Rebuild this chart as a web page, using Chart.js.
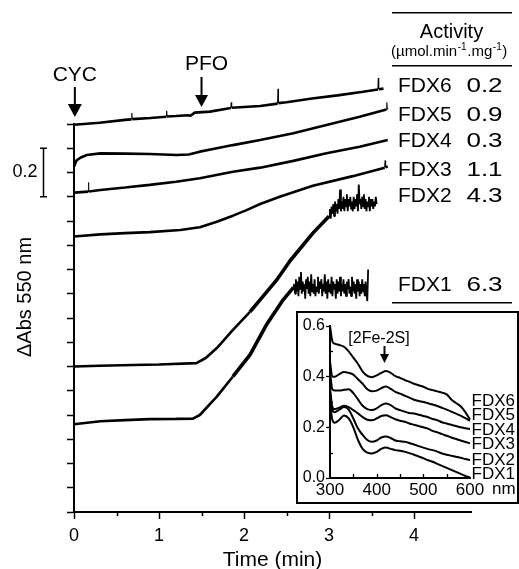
<!DOCTYPE html>
<html><head><meta charset="utf-8">
<script src="https://cdn.jsdelivr.net/npm/chart.js@4.4.0/dist/chart.umd.min.js"></script>
<style>
html,body{margin:0;padding:0;background:#fff;}
#wrap{position:relative;width:519px;height:569px;overflow:hidden;}
#main{position:absolute;left:0;top:0;}
#insetBox{position:absolute;left:296px;top:311px;width:223px;height:193px;border:2px solid #000;box-sizing:border-box;background:#fff;}
#inset{position:absolute;left:298px;top:313px;}
</style></head><body>
<div id="wrap">
<canvas id="main" width="519" height="569"></canvas>
<div id="insetBox"></div>
<canvas id="inset" width="219" height="189"></canvas>
</div>
<script>
const FONT = "'Liberation Sans', Arial, Helvetica, sans-serif";

// ---------- main kinetics traces (time in min, ΔAbs 550 nm, stacked offsets) ----------
const fdx6Time = [0,0.3,0.6,0.675,0.68,0.685,0.9,1.085,1.09,1.095,1.2,1.34,1.37,1.42,1.6,1.845,1.85,1.855,2.19,2.395,2.40,2.405,2.5,2.8,3.1,3.4,3.575,3.58,3.585,3.64];
const fdx6Abs  = [1.597,1.605,1.617,1.619,1.645,1.620,1.625,1.630,1.655,1.631,1.633,1.636,1.634,1.647,1.651,1.666,1.69,1.667,1.674,1.684,1.745,1.686,1.69,1.705,1.718,1.733,1.742,1.79,1.743,1.746];

const fdx5Time = [0,0.03,0.08,0.15,0.31,0.6,0.89,1.21,1.35,1.48,1.65,1.87,2.19,2.58,2.97,3.36,3.675,3.68,3.685,3.69];
const fdx5Abs  = [1.424,1.45,1.462,1.472,1.479,1.478,1.476,1.472,1.474,1.486,1.498,1.513,1.534,1.562,1.596,1.63,1.66,1.69,1.662,1.665];

const fdx4Time = [0,0.165,0.17,0.175,0.31,0.6,0.89,1.2,1.48,1.87,2.19,2.58,2.97,3.36,3.69];
const fdx4Abs  = [1.317,1.321,1.36,1.322,1.328,1.338,1.349,1.362,1.376,1.403,1.42,1.448,1.479,1.506,1.534];

const fdx3Time = [0,0.31,0.6,0.89,1.25,1.48,1.68,1.87,2.03,2.19,2.42,2.81,3.28,3.655,3.66,3.665,3.69];
const fdx3Abs  = [1.136,1.145,1.15,1.154,1.163,1.174,1.197,1.222,1.245,1.27,1.30,1.345,1.385,1.42,1.45,1.422,1.425];

const fdx2Time = [0,0.3,0.7,1.0,1.44,1.55,1.68,1.87,2.07,2.26,2.38,2.54,2.81,
  3.00,3.01,3.02,3.03,3.04,3.05,3.06,3.07,3.08,3.09,3.10,3.11,3.12,3.13,3.14,3.15,3.16,3.17,3.18,3.19,
  3.20,3.21,3.22,3.23,3.24,3.25,3.26,3.27,3.28,3.29,3.30,3.31,3.32,3.33,3.34,3.35,3.36,3.37,3.38,3.39,
  3.40,3.41,3.42,3.43,3.44,3.45,3.46,3.47,3.48,3.49,3.50,3.51,3.52,3.53,3.54,3.55,3.56];
const fdx2Abs  = [0.600,0.603,0.606,0.608,0.614,0.635,0.676,0.751,0.825,0.905,0.955,1.035,1.15,
  1.22,1.25,1.21,1.26,1.23,1.27,1.22,1.28,1.24,1.27,1.23,1.29,1.25,1.33,1.24,1.28,1.25,1.30,1.24,1.29,
  1.26,1.31,1.24,1.29,1.26,1.30,1.25,1.28,1.24,1.30,1.25,1.29,1.26,1.31,1.24,1.35,1.27,1.29,1.25,1.30,
  1.26,1.31,1.25,1.29,1.24,1.28,1.26,1.30,1.24,1.29,1.26,1.29,1.25,1.28,1.26,1.30,1.27];

const fdx1Time = [0,0.31,0.6,0.89,1.2,1.40,1.48,1.68,1.87,2.07,2.26,2.46,2.58,
  2.59,2.60,2.61,2.62,2.63,2.64,2.65,2.66,2.67,2.68,2.69,2.70,2.71,2.72,2.73,2.74,2.75,2.76,2.77,2.78,
  2.79,2.80,2.81,2.82,2.83,2.84,2.85,2.86,2.87,2.88,2.89,2.90,2.91,2.92,2.93,2.94,2.95,2.96,2.97,2.98,
  2.99,3.00,3.01,3.02,3.03,3.04,3.05,3.06,3.07,3.08,3.09,3.10,3.11,3.12,3.13,3.14,3.15,3.16,3.17,3.18,
  3.19,3.20,3.21,3.22,3.23,3.24,3.25,3.26,3.27,3.28,3.29,3.30,3.31,3.32,3.33,3.34,3.35,3.36,3.37,3.38,
  3.39,3.40,3.41,3.42,3.43,3.44,3.45,3.46];
const fdx1Abs  = [0.362,0.374,0.379,0.383,0.384,0.385,0.40,0.476,0.559,0.648,0.77,0.875,0.925,
  0.94,0.90,0.96,0.91,0.95,0.89,0.97,0.92,0.99,0.90,0.95,0.91,0.94,0.88,0.96,0.92,0.97,0.90,0.95,0.89,
  0.98,0.91,0.94,0.90,0.96,0.89,0.93,0.91,0.97,0.90,0.95,0.92,0.96,0.89,0.94,0.91,0.98,0.90,0.95,0.88,
  0.96,0.91,0.94,0.90,0.97,0.89,0.95,0.92,0.94,0.88,0.96,0.90,0.95,0.91,0.97,0.89,0.94,0.91,0.96,0.90,
  0.94,0.89,0.95,0.92,0.96,0.90,0.93,0.89,0.97,0.91,0.95,0.90,0.94,0.88,0.96,0.91,0.95,0.89,0.94,0.90,
  0.96,0.91,0.94,0.89,0.95,0.90,0.87,1.00];

const traceNames = ['FDX6','FDX5','FDX4','FDX3','FDX2','FDX1'];
const activities = ['0.2','0.9','0.3','1.1','4.3','6.3'];
const xMajorTicks = [0,1,2,3,4];
const xMinorTicks = [0.5,1.5,2.5,3.5];

// ---------- inset: absorbance spectra ----------
const wavelengths = [300,305,310,320,330,340,350,360,370,380,390,400,410,420,430,440,450,460,470,480,490,500,510,520,530,540,550,560,570,580,590,600];
const specFdx6 = [0.60,0.54,0.53,0.525,0.518,0.50,0.475,0.45,0.42,0.403,0.398,0.405,0.415,0.422,0.415,0.402,0.395,0.387,0.38,0.372,0.366,0.36,0.352,0.347,0.342,0.337,0.33,0.31,0.296,0.283,0.26,0.231];
const specFdx5 = [0.46,0.40,0.40,0.41,0.418,0.415,0.408,0.39,0.372,0.35,0.342,0.345,0.355,0.361,0.352,0.34,0.333,0.325,0.317,0.309,0.304,0.30,0.295,0.29,0.284,0.277,0.27,0.262,0.254,0.246,0.236,0.226];
const specFdx4 = [0.42,0.35,0.345,0.345,0.348,0.35,0.335,0.31,0.285,0.272,0.268,0.275,0.288,0.294,0.288,0.275,0.268,0.262,0.257,0.255,0.25,0.245,0.24,0.233,0.228,0.22,0.215,0.21,0.205,0.20,0.196,0.193];
const specFdx3 = [0.36,0.28,0.272,0.278,0.285,0.28,0.268,0.255,0.24,0.23,0.228,0.235,0.245,0.248,0.24,0.232,0.226,0.222,0.215,0.21,0.205,0.20,0.195,0.186,0.18,0.173,0.167,0.16,0.154,0.148,0.142,0.137];
const specFdx2 = [0.32,0.27,0.26,0.27,0.28,0.27,0.235,0.195,0.17,0.15,0.143,0.148,0.16,0.164,0.158,0.148,0.145,0.143,0.138,0.132,0.126,0.12,0.114,0.11,0.104,0.097,0.092,0.088,0.084,0.08,0.075,0.071];
const specFdx1 = [0.30,0.23,0.218,0.23,0.247,0.235,0.20,0.15,0.115,0.10,0.097,0.103,0.115,0.12,0.115,0.11,0.108,0.104,0.098,0.092,0.085,0.078,0.07,0.064,0.056,0.048,0.04,0.032,0.024,0.016,0.008,0.002];
const insetXMinor = [350,400,450,500,550];
const insetYMinor = [0.1,0.3,0.5];

// ---------- build main chart ----------
const mainSeries = [[fdx6Time,fdx6Abs],[fdx5Time,fdx5Abs],[fdx4Time,fdx4Abs],[fdx3Time,fdx3Abs],[fdx2Time,fdx2Abs],[fdx1Time,fdx1Abs]];
const thickFrom = [99,99,99,99,2.0,1.8];
const mainDatasets = mainSeries.map((s,i)=>({
  label: traceNames[i],
  data: s[0].map((t,j)=>({x:t,y:s[1][j]})),
  borderColor:'#000', borderWidth:2.6, pointRadius:0, tension:0, clip:false, fill:false,
  borderJoinStyle:'bevel',
  segment:{
    borderWidth: c => {
      const dt = c.p1.parsed.x - c.p0.parsed.x;
      if (dt <= 0.0075) return 1.1;
      if (dt <= 0.012) return 1.8;
      if (c.p0.parsed.x >= thickFrom[i]) return 3.6;
      return 2.6;
    }
  }
}));

function arrowDown(ctx,x,y0,y1,headLen,halfW){
  ctx.beginPath(); ctx.moveTo(x,y0); ctx.lineTo(x,y1-headLen+1); ctx.stroke();
  ctx.beginPath(); ctx.moveTo(x-halfW,y1-headLen); ctx.lineTo(x+halfW,y1-headLen); ctx.lineTo(x,y1); ctx.closePath(); ctx.fill();
}

const mainAnnot = {
  id:'mainAnnot',
  afterDraw(chart){
    const {ctx, scales:{x,y}} = chart;
    ctx.save();
    ctx.strokeStyle='#000'; ctx.fillStyle='#000';
    // minor x ticks
    ctx.lineWidth=1.5;
    xMinorTicks.forEach(v=>{const px=Math.round(x.getPixelForValue(v))+0.5; ctx.beginPath(); ctx.moveTo(px,y.bottom); ctx.lineTo(px,y.bottom+4); ctx.stroke();});
    // y axis title
    ctx.save(); ctx.translate(25,297); ctx.rotate(-Math.PI/2);
    ctx.font='20px '+FONT; ctx.textAlign='center'; ctx.textBaseline='middle';
    ctx.fillText('\u0394Abs 550 nm',0,0); ctx.restore();
    // scale bar 0.2
    const yb0=y.getPixelForValue(1.5), yb1=y.getPixelForValue(1.3);
    ctx.lineWidth=1.5;
    ctx.beginPath(); ctx.moveTo(43.5,yb0); ctx.lineTo(43.5,yb1);
    ctx.moveTo(40,yb0); ctx.lineTo(47,yb0); ctx.moveTo(40,yb1); ctx.lineTo(47,yb1); ctx.stroke();
    ctx.font='18px '+FONT; ctx.textAlign='center'; ctx.textBaseline='middle';
    ctx.fillText('0.2',25,(yb0+yb1)/2);
    // CYC / PFO markers
    ctx.font='21px '+FONT;
    const xc=x.getPixelForValue(0.01), xp=x.getPixelForValue(1.5);
    ctx.fillText('CYC',xc,75);
    ctx.fillText('PFO',xp+5,64);
    ctx.lineWidth=2;
    arrowDown(ctx,xc,87,117,13,7);
    arrowDown(ctx,xp,77,107,12,6.5);
    // activity table
    ctx.lineWidth=1.5;
    [12.7,65.7,302.7].forEach(yy=>{ctx.beginPath(); ctx.moveTo(392,yy); ctx.lineTo(512,yy); ctx.stroke();});
    ctx.font='20px '+FONT; ctx.textAlign='center';
    ctx.fillText('Activity',451.5,32);
    // units with superscripts
    ctx.textAlign='left'; ctx.textBaseline='alphabetic';
    let cx=391;
    const parts=[['(\u00b5mol.min',15,0],['-1',10,-6],['.mg',15,0],['-1',10,-6],[')',15,0]];
    parts.forEach(p=>{ctx.font=p[1]+'px '+FONT; ctx.fillText(p[0],cx,56+p[2]); cx+=ctx.measureText(p[0]).width+0.6;});
    // rows
    const rowY=[86.7,115,141.7,170,196.7,285];
    ctx.font='21px '+FONT; ctx.textBaseline='middle';
    traceNames.forEach((n,i)=>{
      ctx.textAlign='left'; ctx.fillText(n,398,rowY[i]);
      ctx.save(); ctx.translate(484.5,rowY[i]); ctx.scale(1.3,1); ctx.textAlign='center';
      ctx.font='20px '+FONT; ctx.fillText(activities[i],0,0); ctx.restore();
    });
    ctx.restore();
  }
};

new Chart(document.getElementById('main'),{
  type:'line',
  data:{datasets:mainDatasets},
  options:{
    responsive:false, animation:false, devicePixelRatio:1,
    layout:{padding:{top:124,right:48,left:0,bottom:0}},
    plugins:{legend:{display:false},tooltip:{enabled:false}},
    scales:{
      x:{type:'linear',min:0,max:4.67,
        afterFit(s){s.height=57;},
        border:{display:true,color:'#000',width:2},
        grid:{drawOnChartArea:false,drawTicks:true,tickLength:7,tickWidth:1.5,tickColor:'#000'},
        afterBuildTicks(s){s.ticks=xMajorTicks.map(v=>({value:v}));},
        ticks:{color:'#000',font:{family:FONT,size:18},padding:6,maxRotation:0,autoSkip:false,callback:v=>String(v)},
        title:{display:true,text:'Time (min)',color:'#000',font:{family:FONT,size:21,lineHeight:1},padding:{top:0,bottom:-2}}
      },
      y:{type:'linear',min:0,max:1.6,
        afterFit(s){s.width=74;},
        border:{display:true,color:'#000',width:2},
        grid:{drawOnChartArea:false,drawTicks:true,tickLength:7,tickWidth:1.5,tickColor:'#000'},
        ticks:{stepSize:0.1,autoSkip:false,callback:()=>'',padding:0}
      }
    }
  },
  plugins:[mainAnnot]
});

// ---------- build inset chart ----------
const specSeries=[specFdx6,specFdx5,specFdx4,specFdx3,specFdx2,specFdx1];
const insetDatasets = specSeries.map((s,i)=>({
  label:traceNames[i],
  data: wavelengths.map((w,j)=>({x:w,y:s[j]})),
  borderColor:'#000', borderWidth:2, pointRadius:0, cubicInterpolationMode:'monotone', clip:false, fill:false
}));

const insetAnnot = {
  id:'insetAnnot',
  afterDraw(chart){
    const {ctx, scales:{x,y}} = chart;
    ctx.save(); ctx.strokeStyle='#000'; ctx.fillStyle='#000'; ctx.lineWidth=1.3;
    insetXMinor.forEach(v=>{const px=Math.round(x.getPixelForValue(v))+0.5; ctx.beginPath(); ctx.moveTo(px,y.bottom); ctx.lineTo(px,y.bottom-4); ctx.stroke();});
    insetYMinor.forEach(v=>{const py=Math.round(y.getPixelForValue(v))+0.5; ctx.beginPath(); ctx.moveTo(x.left,py); ctx.lineTo(x.left+3,py); ctx.stroke();});
    ctx.font='17px '+FONT; ctx.textAlign='left'; ctx.textBaseline='middle';
    ctx.fillText('nm',194,176.5);
    ctx.font='16px '+FONT; ctx.textAlign='center';
    ctx.fillText('[2Fe-2S]',81,26);
    ctx.lineWidth=2;
    arrowDown(ctx,86.5,33,50,9,4.5);
    const labY=[88.7,102,117,131.3,147,161];
    ctx.font='17px '+FONT; ctx.textAlign='left';
    traceNames.forEach((n,i)=>ctx.fillText(n,173.5,labY[i]));
    ctx.restore();
  }
};

new Chart(document.getElementById('inset'),{
  type:'line',
  data:{datasets:insetDatasets},
  options:{
    responsive:false, animation:false, devicePixelRatio:1,
    layout:{padding:{top:13,right:47,left:0,bottom:0}},
    plugins:{legend:{display:false},tooltip:{enabled:false}},
    scales:{
      x:{type:'linear',min:300,max:600,
        afterFit(s){s.height=24;},
        border:{display:true,color:'#000',width:2},
        grid:{drawOnChartArea:false,drawTicks:false},
        ticks:{stepSize:100,color:'#000',font:{family:FONT,size:17},padding:2,maxRotation:0,autoSkip:false}
      },
      y:{type:'linear',min:0,max:0.6,
        afterFit(s){s.width=32;},
        border:{display:true,color:'#000',width:2},
        grid:{drawOnChartArea:false,drawTicks:true,tickLength:4,tickWidth:1.3,tickColor:'#000'},
        ticks:{stepSize:0.2,color:'#000',font:{family:FONT,size:16},padding:1,autoSkip:false,callback:v=>v.toFixed(1)}
      }
    }
  },
  plugins:[insetAnnot]
});
</script>
</body></html>
